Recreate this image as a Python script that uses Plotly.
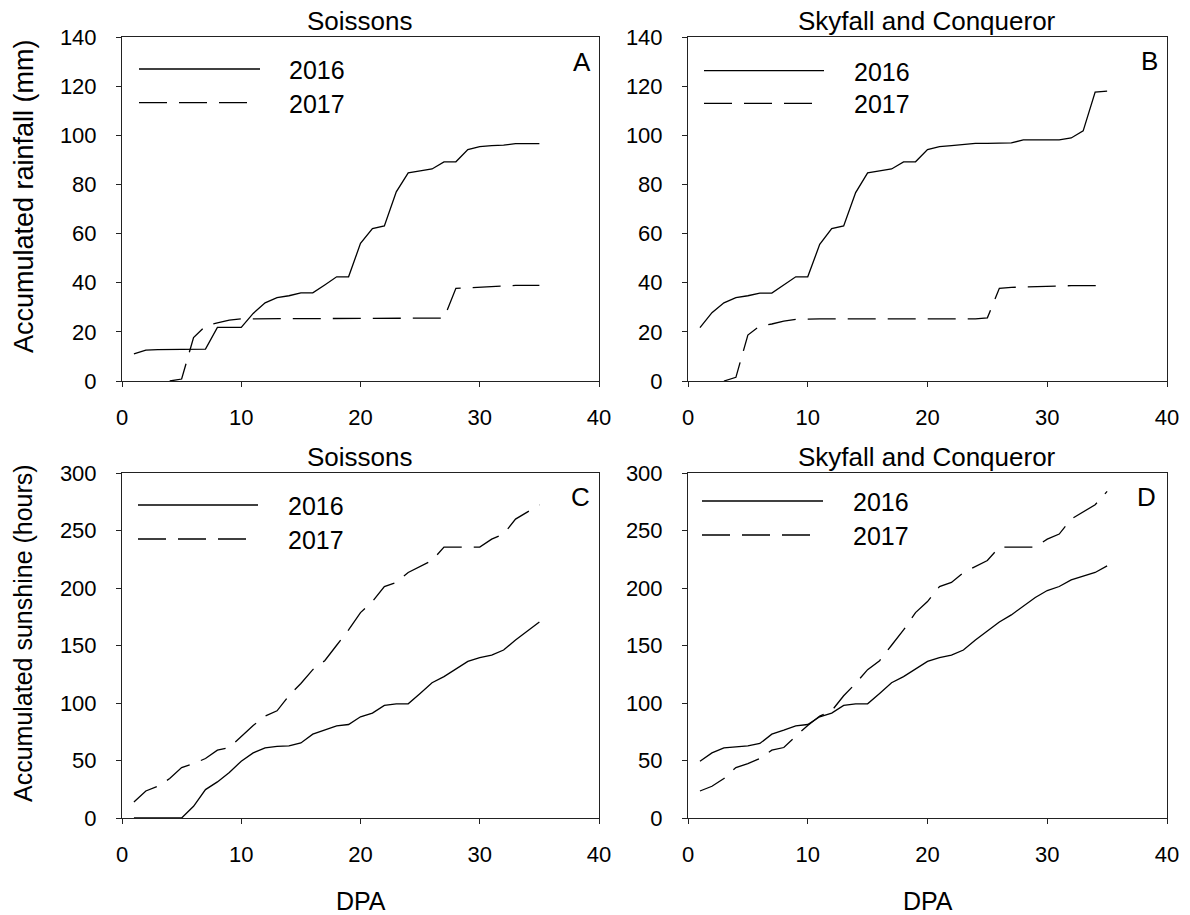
import plotly.graph_objects as go

# ---------------- data ----------------
days = list(range(1, 36))

# Panel A - Soissons, accumulated rainfall (mm)
rain_soissons_2016 = [11, 12.6, 12.8, 12.9, 13, 13, 13, 21.8, 21.8, 21.8, 27.5, 31.8, 33.9, 34.7,
                      35.9, 35.9, 39.1, 42.4, 42.4, 56, 62, 63.1, 77, 84.7, 85.5, 86.3, 89.2, 89.2,
                      94.2, 95.4, 95.8, 96, 96.6, 96.6, 96.6]
days_rain_soissons_2017 = list(range(4, 36))
rain_soissons_2017 = [0, 0.8, 17.7, 22.4, 23.7, 24.8, 25.3, 25.3, 25.3, 25.3, 25.3, 25.3, 25.3,
                      25.3, 25.3, 25.3, 25.3, 25.3, 25.3, 25.3, 25.3, 25.3, 25.3, 25.6, 37.7, 38.0,
                      38.3, 38.6, 38.8, 38.9, 38.9, 38.9]

# Panel B - Skyfall and Conqueror, accumulated rainfall (mm)
rain_sky_2016 = [21.7, 27.8, 31.8, 33.9, 34.7, 35.8, 35.8, 39, 42.4, 42.4, 55.6, 62, 63.1, 76.7,
                 84.7, 85.5, 86.3, 89.2, 89.2, 94.2, 95.4, 95.8, 96.2, 96.7, 96.7, 96.7, 96.9,
                 98.1, 98.1, 98.1, 98.1, 98.9, 101.8, 117.6, 118]
days_rain_sky_2017 = list(range(3, 36))
rain_sky_2017 = [0, 1.5, 18.7, 22.4, 23.2, 24.4, 25.1, 25.3, 25.3, 25.3, 25.3, 25.3, 25.3, 25.3,
                 25.3, 25.3, 25.3, 25.3, 25.3, 25.3, 25.3, 25.3, 25.7, 37.7, 38.1, 38.3, 38.5,
                 38.6, 38.7, 38.8, 38.8, 38.8, 38.8]

# Panel C - Soissons, accumulated sunshine (hours)
sun_soissons_2016 = [0, 0, 0, 0, 0, 10.2, 24.7, 31.4, 39.5, 49.4, 56.6, 61, 62.2, 62.7, 65.3,
                     72.9, 76.4, 80.2, 81.3, 88, 91.2, 97.9, 99.3, 99.3, 108.3, 117.6, 122.9,
                     129.5, 136.2, 139.4, 141.7, 146.1, 154.8, 162.6, 170.5]
sun_soissons_2017 = [13.9, 23.5, 27.6, 34.3, 43.9, 47.3, 51.7, 59, 61.3, 71.2, 80.5, 88.6, 93.2,
                     106.3, 117, 129, 136.8, 150.2, 163.5, 178.6, 188.2, 201.3, 204.8, 213.5,
                     218.7, 223.9, 235.6, 235.6, 235.6, 235.6, 242.5, 246.9, 259.9, 265.8, 272.4]

# Panel D - Skyfall and Conqueror, accumulated sunshine (hours)
sun_sky_2016 = [49.4, 56.6, 61, 61.9, 62.7, 64.8, 72.9, 76.4, 80.2, 81.3, 88, 91.2, 97.9, 99.3,
                99.3, 108.3, 117.6, 122.9, 129.5, 136.2, 139.4, 141.7, 146.1, 154.8, 162.6,
                170.5, 176.6, 184.4, 191.7, 197.8, 201.3, 207.1, 210, 213.5, 219.3]
sun_sky_2017 = [23.5, 27.6, 34.3, 43.9, 47.3, 51.7, 59, 61.3, 71.2, 80.5, 88.6, 93.2, 106.3,
                117, 129, 136.8, 150.2, 163.5, 178.6, 188.2, 201.3, 204.8, 213.5, 218.7, 223.9,
                235.6, 235.6, 235.6, 235.6, 242.5, 246.9, 259.9, 265.8, 272.4, 284]

x_ticks = [0, 10, 20, 30, 40]
rain_ticks = [0, 20, 40, 60, 80, 100, 120, 140]
sun_ticks = [0, 50, 100, 150, 200, 250, 300]
series_names = ["2016", "2017"]
panel_titles = ["Soissons", "Skyfall and Conqueror", "Soissons", "Skyfall and Conqueror"]
panel_letters = ["A", "B", "C", "D"]

# ---------------- figure ----------------
W, H = 1190, 915
FONT = "Liberation Sans, Arial, sans-serif"
DASH = "28px,12px"
LW = 1.3

def px(x):
    return x / W

def py(y):
    return 1 - y / H

fig = go.Figure()

panels = [
    ("x", "y", days, rain_soissons_2016, days_rain_soissons_2017, rain_soissons_2017),
    ("x2", "y2", days, rain_sky_2016, days_rain_sky_2017, rain_sky_2017),
    ("x3", "y3", days, sun_soissons_2016, days, sun_soissons_2017),
    ("x4", "y4", days, sun_sky_2016, days, sun_sky_2017),
]
for xa, ya, x16, y16, x17, y17 in panels:
    fig.add_trace(go.Scatter(x=x16, y=y16, mode="lines", xaxis=xa, yaxis=ya, name=series_names[0],
                             line=dict(color="black", width=LW), showlegend=False))
    fig.add_trace(go.Scatter(x=x17, y=y17, mode="lines", xaxis=xa, yaxis=ya, name=series_names[1],
                             line=dict(color="black", width=LW, dash=DASH), showlegend=False))

# plot areas in pixels: (left, right, top, bottom)
boxes = [(122, 599, 37, 381), (688, 1167, 37, 381), (122, 599, 473, 818), (688, 1167, 473, 818)]

common = dict(showline=True, linecolor="#222", linewidth=1, mirror=True, ticks="outside",
              ticklen=5, tickcolor="#222", showgrid=False, zeroline=False, automargin=False,
              tickfont=dict(family=FONT, size=22, color="black"))

layout = dict(width=W, height=H, margin=dict(l=0, r=0, t=0, b=0), template="none",
              plot_bgcolor="white", paper_bgcolor="white", showlegend=False)
for i, (l, r, t, b) in enumerate(boxes):
    sfx = "" if i == 0 else str(i + 1)
    yt = rain_ticks if i < 2 else sun_ticks
    layout["xaxis" + sfx] = dict(domain=[px(l), px(r)], range=[0, 40], tickvals=x_ticks,
                                 anchor="y" + sfx, ticklabelstandoff=12, **common)
    layout["yaxis" + sfx] = dict(domain=[py(b), py(t)], range=[0, yt[-1]], tickvals=yt,
                                 anchor="x" + sfx, ticklabelstandoff=15, **common)
fig.update_layout(**layout)

annotations = []
shapes = []
# panel titles
title_pos = [(360, 21), (927, 21), (360, 457), (927, 457)]
for (tx, ty), txt in zip(title_pos, panel_titles):
    annotations.append(dict(x=px(tx), y=py(ty), xref="paper", yref="paper", text=txt,
                            showarrow=False, xanchor="center", yanchor="middle",
                            font=dict(family=FONT, size=26, color="black")))
# panel letters
letter_pos = [(593, 62), (1160, 61), (592, 497), (1158, 497)]
for (lx, ly), txt in zip(letter_pos, panel_letters):
    annotations.append(dict(x=px(lx), y=py(ly), xref="paper", yref="paper", text=txt,
                            showarrow=False, xanchor="right", yanchor="middle",
                            font=dict(family=FONT, size=26, color="black")))
# legends: (line_x0, solid_x1, dash_x1, y2016, y2017, text_x)
legends = [(139, 260, 247, 69, 102.7, 287), (704, 824, 815, 70.7, 103.3, 852),
           (138, 258, 248, 505, 539, 286), (702, 823, 812, 501, 535, 851)]
for x0, x1s, x1d, y16, y17, tx in legends:
    shapes.append(dict(type="line", xref="paper", yref="paper", x0=px(x0), x1=px(x1s),
                       y0=py(y16), y1=py(y16), line=dict(color="black", width=LW)))
    shapes.append(dict(type="line", xref="paper", yref="paper", x0=px(x0), x1=px(x1d),
                       y0=py(y17), y1=py(y17), line=dict(color="black", width=LW, dash=DASH)))
    for yy, nm in ((y16, series_names[0]), (y17, series_names[1])):
        annotations.append(dict(x=px(tx), y=py(yy + 1), xref="paper", yref="paper", text=nm,
                                showarrow=False, xanchor="left", yanchor="middle",
                                font=dict(family=FONT, size=25, color="black")))
# axis titles
annotations.append(dict(x=px(24), y=py(196), xref="paper", yref="paper",
                        text="Accumulated rainfall (mm)", textangle=-90, showarrow=False,
                        xanchor="center", yanchor="middle",
                        font=dict(family=FONT, size=27, color="black")))
annotations.append(dict(x=px(23), y=py(633), xref="paper", yref="paper",
                        text="Accumulated sunshine (hours)", textangle=-90, showarrow=False,
                        xanchor="center", yanchor="middle",
                        font=dict(family=FONT, size=25, color="black")))
for cx in (361, 927.5):
    annotations.append(dict(x=px(cx), y=py(901), xref="paper", yref="paper", text="DPA",
                            showarrow=False, xanchor="center", yanchor="middle",
                            font=dict(family=FONT, size=25, color="black")))

fig.update_layout(annotations=annotations, shapes=shapes)
fig.write_html("out.html", config={"displayModeBar": False},
               post_script="document.body.style.margin='0px';document.body.style.overflow='hidden';")
